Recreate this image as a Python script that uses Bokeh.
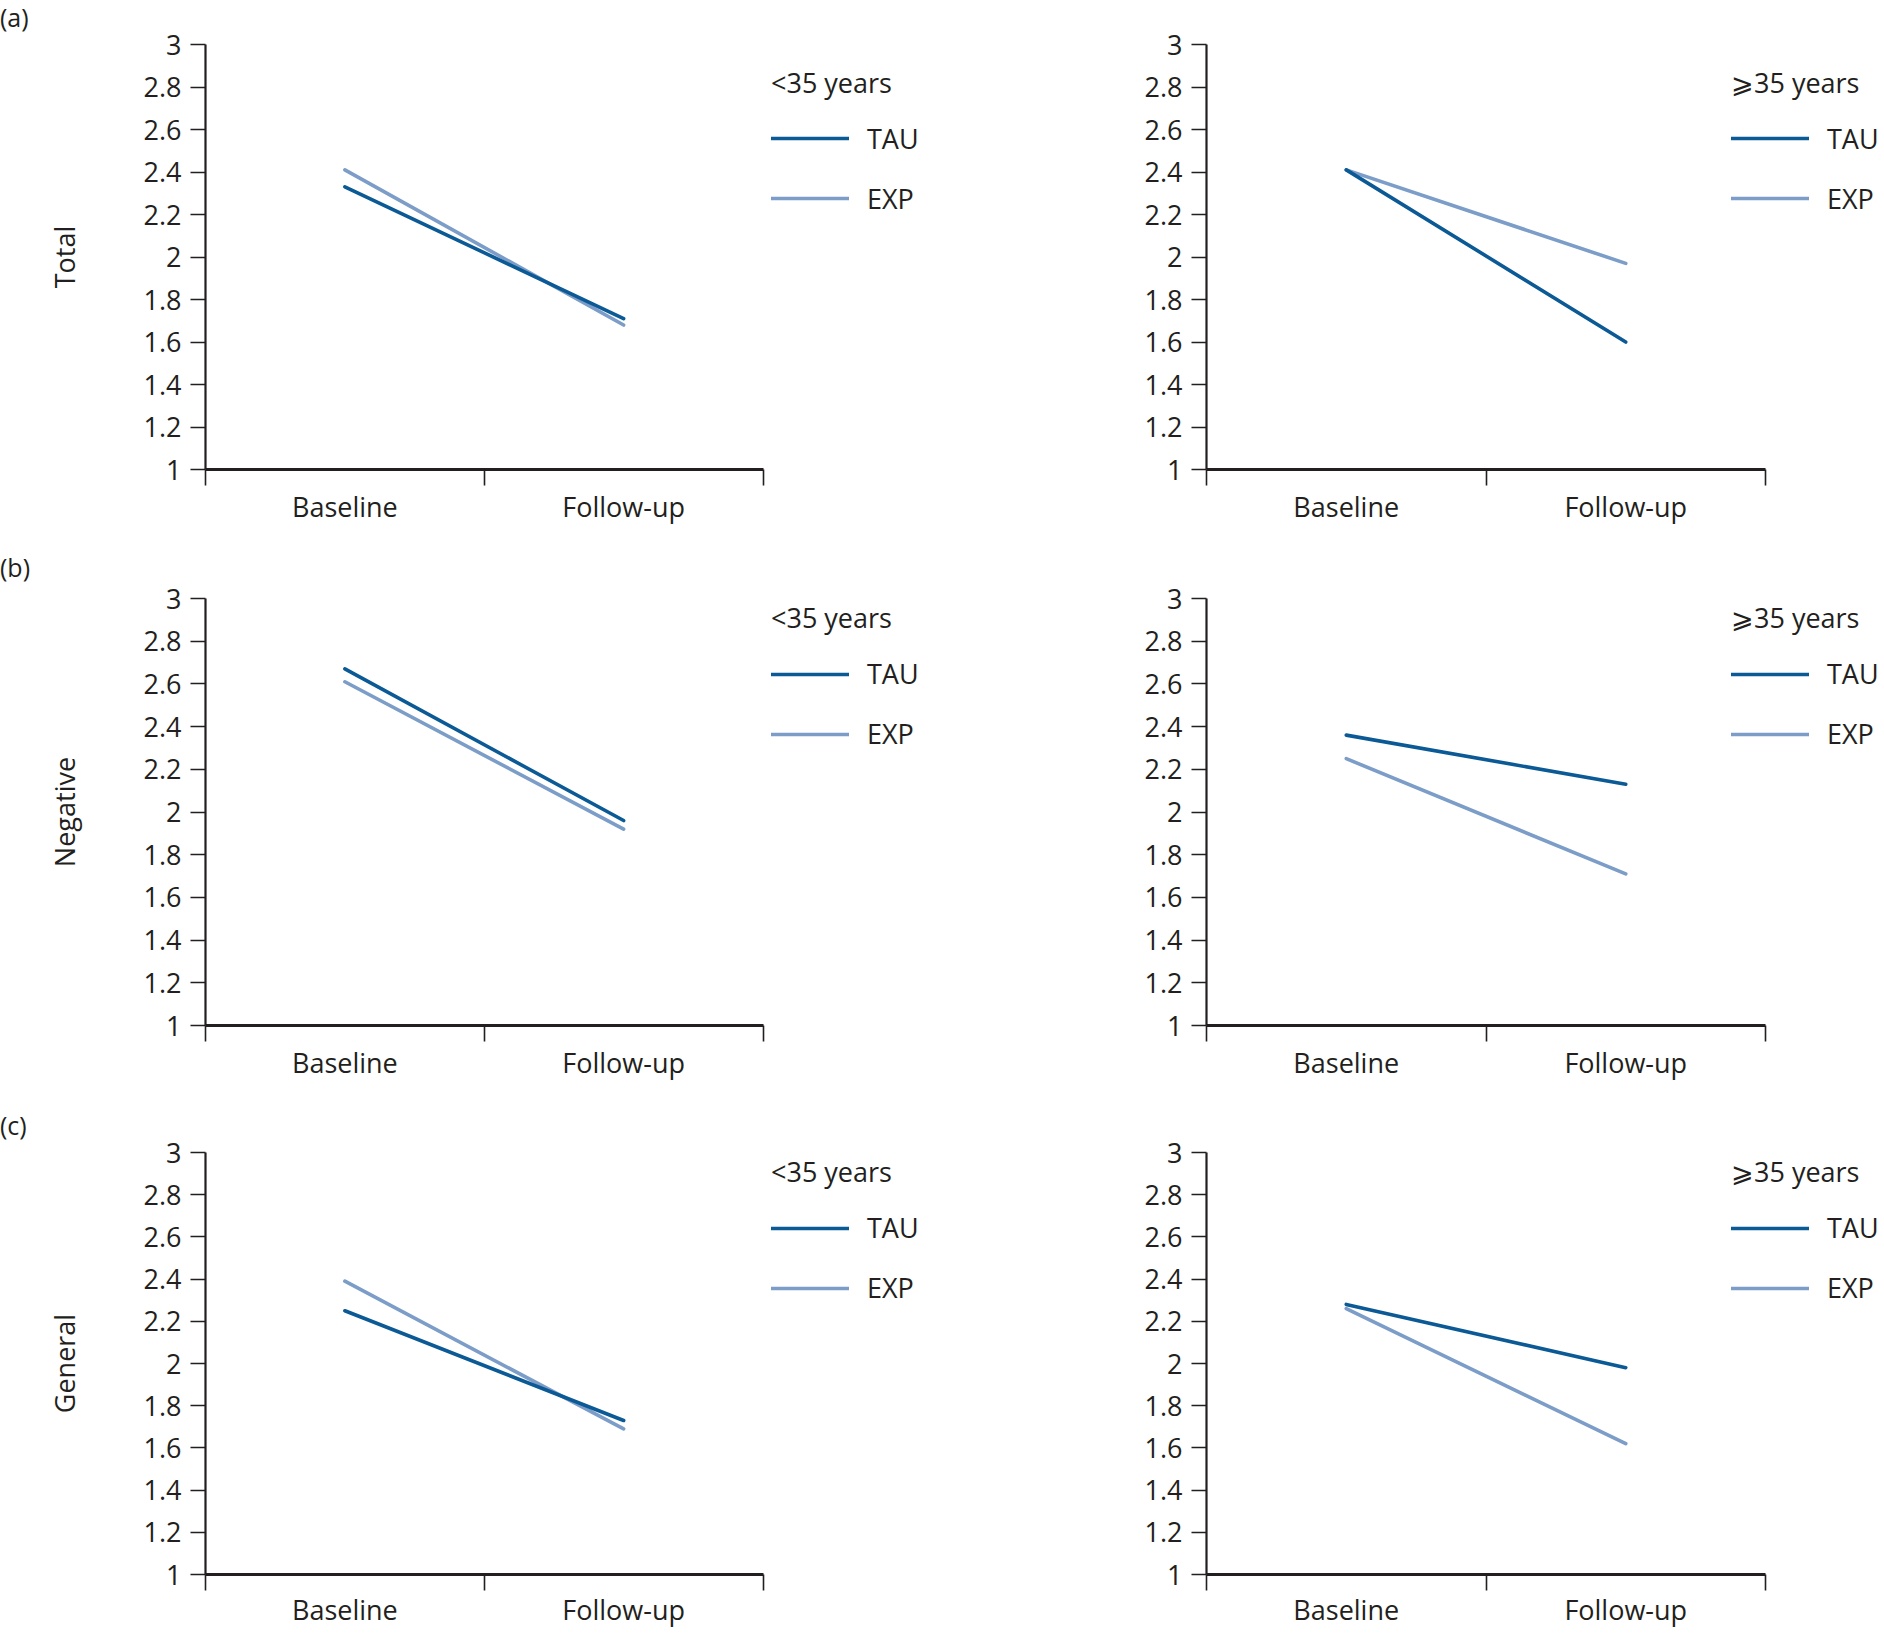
from bokeh.plotting import figure
from bokeh.models import Range1d, FixedTicker, Legend, LegendItem, Div
from bokeh.layouts import column, row
from bokeh.embed import file_html
from bokeh.resources import INLINE

# ---------------- data ----------------
periods = ["Baseline", "Follow-up"]
y_ticks = [1.0, 1.2, 1.4, 1.6, 1.8, 2.0, 2.2, 2.4, 2.6, 2.8, 3.0]
y_tick_labels = ["1", "1.2", "1.4", "1.6", "1.8", "2", "2.2", "2.4", "2.6", "2.8", "3"]
panel_tags = ["(a)", "(b)", "(c)"]
measures = ["Total", "Negative", "General"]
age_groups = ["<35 years", "\u2a7e35 years"]
series_names = ["TAU", "EXP"]

# Total
tau_young_total = [2.33, 1.71]
exp_young_total = [2.41, 1.68]
tau_old_total = [2.41, 1.60]
exp_old_total = [2.41, 1.97]
# Negative
tau_young_negative = [2.67, 1.96]
exp_young_negative = [2.61, 1.92]
tau_old_negative = [2.36, 2.13]
exp_old_negative = [2.25, 1.71]
# General
tau_young_general = [2.25, 1.73]
exp_young_general = [2.39, 1.69]
tau_old_general = [2.28, 1.98]
exp_old_general = [2.26, 1.62]

# ---------------- style ----------------
FONT = "Open Sans"
INK = "#231f20"
TAU_COLOR = "#0b5a96"
EXP_COLOR = "#7b9dc8"

TAG_H = 8          # height of the (thin) tag strip; its text overflows into the transparent border below
TAG_LINE = 34      # line-height of the tag text
# per row: (top border, frame height, bottom border, legend top offset, x label standoff)
ROWS = [
    (36, 425, 81, 19.6, 2),
    (40, 427, 83, 1.1, 2),
    (36, 425, 53, 4.3, 0),
]
LEFT_W, RIGHT_W = 1108, 772


def make_panel(r, col, tau_vals, exp_vals):
    top_b, frame_h, bot_b, leg_top, xstand = ROWS[r]
    left = col == 0
    if left:
        width, mbl, axis_px, leg_x = LEFT_W, 205, 557.5, 566
    else:
        width, mbl, axis_px, leg_x = RIGHT_W, 98, 559.0, 525
    frame_w = width - mbl
    n = len(periods)
    x_end = n * frame_w / axis_px
    p = figure(width=width, height=top_b + frame_h + bot_b,
               x_range=Range1d(0, x_end), y_range=Range1d(1, 3),
               output_backend="svg", toolbar_location=None, tools="",
               min_border_left=mbl, min_border_right=0,
               min_border_top=top_b, min_border_bottom=bot_b)
    p.outline_line_color = None
    p.xgrid.visible = False
    p.ygrid.visible = False
    p.background_fill_color = "white"
    p.border_fill_alpha = 0

    xs = [i + 0.5 for i in range(n)]
    r_exp = p.line(xs, exp_vals, line_color=EXP_COLOR, line_width=3.6, line_cap="round")
    r_tau = p.line(xs, tau_vals, line_color=TAU_COLOR, line_width=3.6, line_cap="round")

    # x axis
    xa = p.xaxis[0]
    xa.ticker = FixedTicker(ticks=xs, minor_ticks=list(range(n + 1)))
    xa.major_label_overrides = {x: lab for x, lab in zip(xs, periods)}
    xa.bounds = (0, n)
    xa.axis_line_width = 3
    xa.axis_line_color = INK
    xa.major_tick_out = 0
    xa.major_tick_in = 0
    xa.minor_tick_out = 16
    xa.minor_tick_in = 0
    xa.minor_tick_line_width = 1.6
    xa.minor_tick_line_color = INK
    xa.major_label_standoff = xstand
    xa.major_label_text_font = FONT
    xa.major_label_text_font_size = "27px"
    xa.major_label_text_color = INK

    # y axis
    ya = p.yaxis[0]
    ya.ticker = FixedTicker(ticks=y_ticks)
    ya.major_label_overrides = {t: lab for t, lab in zip(y_ticks, y_tick_labels)}
    ya.axis_line_width = 2.2
    ya.axis_line_color = INK
    ya.major_tick_out = 15
    ya.major_tick_in = 0
    ya.major_tick_line_width = 1.6
    ya.major_tick_line_color = INK
    ya.minor_tick_out = 0
    ya.minor_tick_in = 0
    ya.major_label_standoff = 9
    ya.major_label_text_font = FONT
    ya.major_label_text_font_size = "27px"
    ya.major_label_text_color = INK
    if left:
        ya.axis_label = measures[r]
        ya.axis_label_text_font = FONT
        ya.axis_label_text_font_size = "27px"
        ya.axis_label_text_font_style = "normal"
        ya.axis_label_text_color = INK
        ya.axis_label_standoff = 58

    # legend
    th = 37.0
    ih = 37.0
    ts = 19
    sp = 23
    leg_h = th + ts + 2 * ih + sp
    legend = Legend(
        items=[LegendItem(label=series_names[0], renderers=[r_tau]),
               LegendItem(label=series_names[1], renderers=[r_exp])],
        title=age_groups[col],
        location=(leg_x, frame_h - leg_top - leg_h),
        padding=0, margin=0, spacing=sp, title_standoff=ts,
        glyph_width=78, glyph_height=20, label_height=20, label_standoff=18,
        border_line_color=None, background_fill_alpha=0,
        label_text_font=FONT, label_text_font_size="27px", label_text_color=INK,
        title_text_font=FONT, title_text_font_size="27px", title_text_color=INK,
        title_text_font_style="normal",
    )
    p.add_layout(legend, "center")
    return p


data = [
    (tau_young_total, exp_young_total, tau_old_total, exp_old_total),
    (tau_young_negative, exp_young_negative, tau_old_negative, exp_old_negative),
    (tau_young_general, exp_young_general, tau_old_general, exp_old_general),
]

children = []
for r, (ty, ey, to, eo) in enumerate(data):
    tag = Div(text=panel_tags[r], width=120, height=TAG_H, margin=0,
              styles={"font-family": FONT, "font-size": "25px",
                      "line-height": f"{TAG_LINE}px", "color": INK,
                      "padding": "0", "margin": "0", "overflow": "visible",
                      "position": "relative", "z-index": "10"})
    children.append(tag)
    children.append(row(make_panel(r, 0, ty, ey), make_panel(r, 1, to, eo)))

layout = column(*children)
open("out.html", "w").write(file_html(layout, INLINE))
